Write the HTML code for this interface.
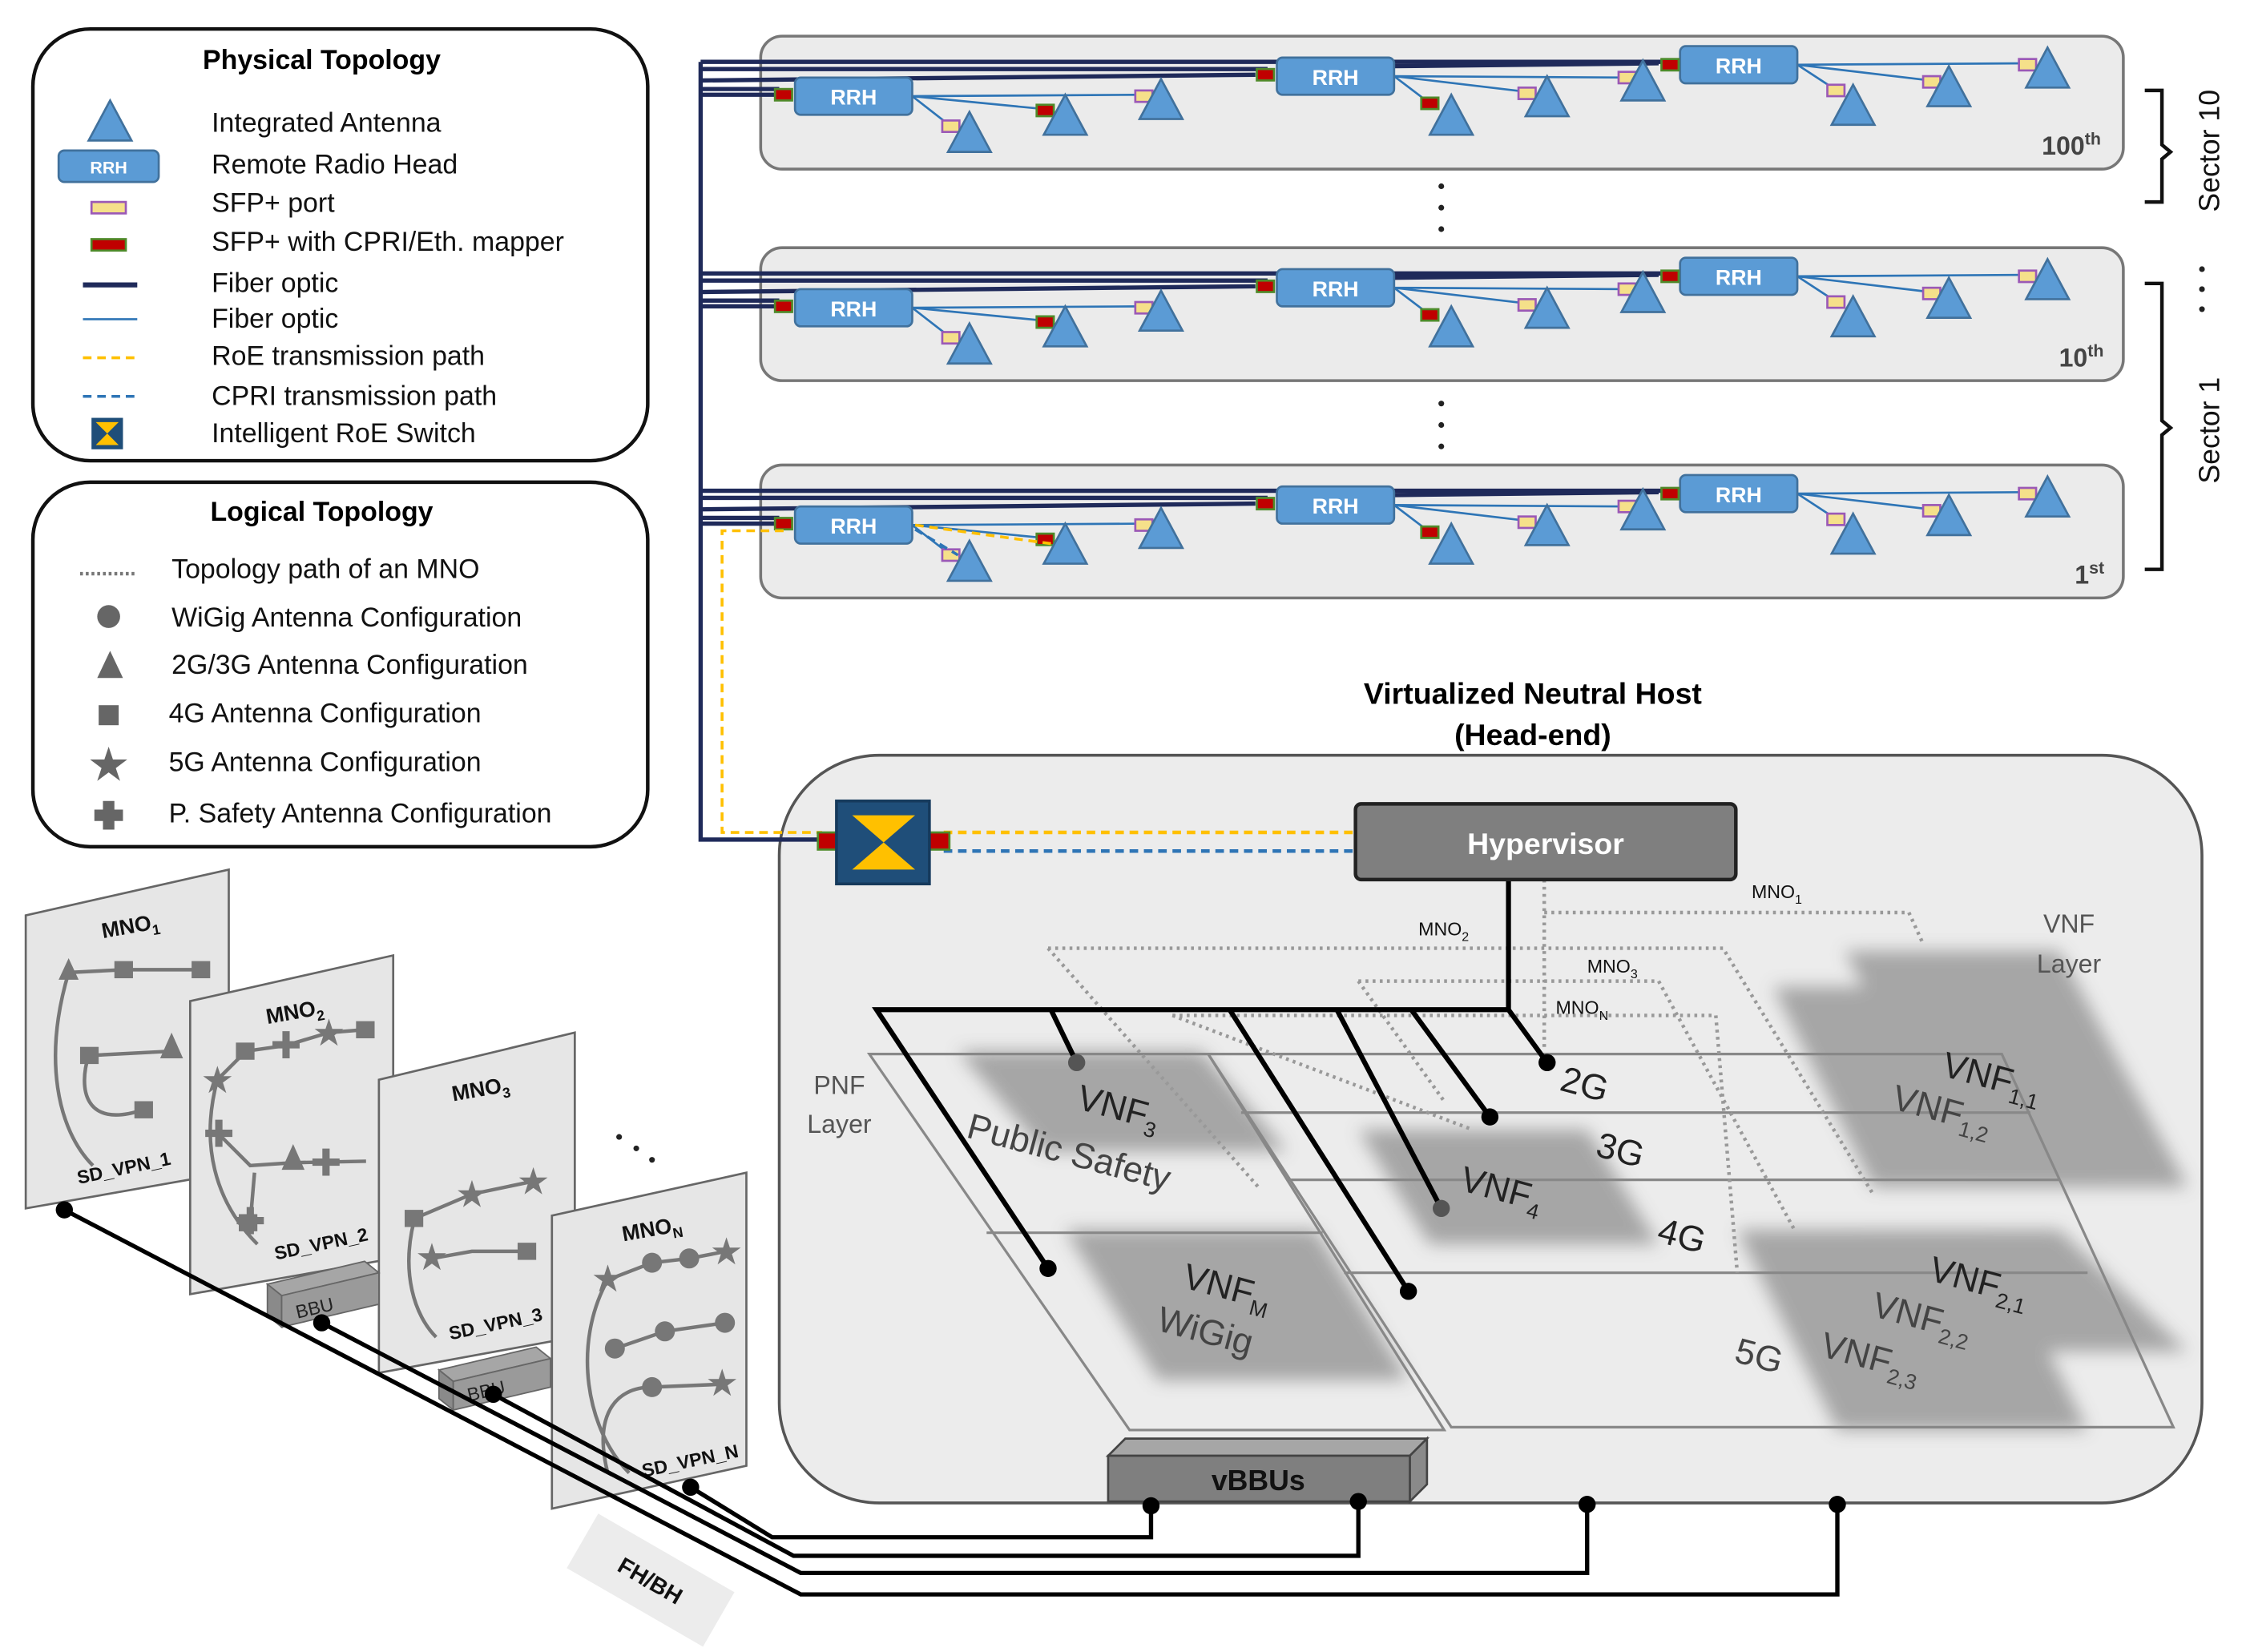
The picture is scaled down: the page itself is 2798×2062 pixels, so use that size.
<!DOCTYPE html>
<html><head><meta charset="utf-8"><style>
html,body{margin:0;padding:0;background:#fff;}
svg{display:block;}
text{font-family:"Liberation Sans",sans-serif;}
</style></head><body>
<svg width="2798" height="2062" viewBox="0 0 1568 1155" xmlns="http://www.w3.org/2000/svg">
<defs>
<filter id="bl" x="-20%" y="-20%" width="140%" height="140%"><feGaussianBlur stdDeviation="6"/></filter>
<g id="tri"><polygon points="0,-14 15,14 -15,14" fill="#5b9bd5" stroke="#41719c" stroke-width="1.5"/></g>
<g id="sfp"><rect x="-6" y="-4" width="12" height="8" fill="#f5e08a" stroke="#9b59b6" stroke-width="1.5"/></g>
<g id="map"><rect x="-6" y="-4" width="12" height="8" fill="#c00000" stroke="#4f8a2a" stroke-width="1.5"/></g>
<g id="rrh"><rect x="0" y="0" width="82" height="26" rx="4" fill="#5b9bd5" stroke="#41719c" stroke-width="1.5"/><text x="41" y="19" font-size="15" fill="#fff" text-anchor="middle" font-weight="bold">RRH</text></g>
<g id="row">
<rect x="532" y="25" width="953" height="93" rx="15" fill="#ebebeb" stroke="#777" stroke-width="2"/>
<g stroke="#1f2a5a" stroke-width="3" fill="none">
<polyline points="490,43 1170,43 1170,45"/>
<polyline points="490,48 885,48 885,52"/>
<polyline points="490,56 878,52"/>
<polyline points="490,62 545,62"/>
<polyline points="490,66 545,66"/>
<line x1="975" y1="46" x2="1160" y2="44"/>
</g>
<g stroke="#2e75b6" stroke-width="1.5" fill="none">
<line x1="638" y1="67" x2="665" y2="88"/><line x1="638" y1="67" x2="730" y2="76"/><line x1="638" y1="67" x2="800" y2="66"/>
<line x1="975" y1="53" x2="1000" y2="72"/><line x1="975" y1="53" x2="1068" y2="64"/><line x1="975" y1="53" x2="1138" y2="54"/>
<line x1="1257" y1="45" x2="1283" y2="62"/><line x1="1257" y1="45" x2="1350" y2="56"/><line x1="1257" y1="45" x2="1418" y2="44"/>
</g>
<use href="#map" x="548" y="66"/>
<use href="#rrh" x="556" y="54"/><use href="#rrh" x="893" y="40"/><use href="#rrh" x="1175" y="32"/>
<use href="#map" x="885" y="52"/><use href="#map" x="1168" y="45"/>
<use href="#sfp" x="665" y="88"/><use href="#map" x="731" y="77"/><use href="#sfp" x="800" y="67"/>
<use href="#map" x="1000" y="72"/><use href="#sfp" x="1068" y="65"/><use href="#sfp" x="1138" y="54"/>
<use href="#sfp" x="1284" y="63"/><use href="#sfp" x="1351" y="57"/><use href="#sfp" x="1418" y="45"/>
<use href="#tri" x="678" y="92"/><use href="#tri" x="745" y="80"/><use href="#tri" x="812" y="69"/>
<use href="#tri" x="1015" y="80"/><use href="#tri" x="1082" y="67"/><use href="#tri" x="1149" y="56"/>
<use href="#tri" x="1296" y="73"/><use href="#tri" x="1363" y="60"/><use href="#tri" x="1432" y="47"/>
</g>
</defs>

<!-- Physical legend -->
<rect x="23" y="20" width="430" height="302" rx="40" fill="#fff" stroke="#111" stroke-width="2.5"/>
<text x="225" y="48" font-size="19" font-weight="bold" text-anchor="middle">Physical Topology</text>
<g font-size="19" fill="#111">
<text x="148" y="92">Integrated Antenna</text>
<text x="148" y="121">Remote Radio Head</text>
<text x="148" y="148">SFP+ port</text>
<text x="148" y="175">SFP+ with CPRI/Eth. mapper</text>
<text x="148" y="204">Fiber optic</text>
<text x="148" y="229">Fiber optic</text>
<text x="148" y="255">RoE transmission path</text>
<text x="148" y="283">CPRI transmission path</text>
<text x="148" y="309">Intelligent RoE Switch</text>
</g>
<use href="#tri" x="77" y="84"/>
<rect x="41" y="105" width="70" height="22" rx="4" fill="#5b9bd5" stroke="#41719c" stroke-width="1.5"/><text x="76" y="121" font-size="12" fill="#fff" text-anchor="middle" font-weight="bold">RRH</text>
<rect x="64" y="141" width="24" height="8" fill="#f5e08a" stroke="#9b59b6" stroke-width="1.5"/>
<rect x="64" y="167" width="24" height="8" fill="#c00000" stroke="#4f8a2a" stroke-width="1.5"/>
<line x1="58" y1="199" x2="96" y2="199" stroke="#1f2a5a" stroke-width="3.5"/>
<line x1="58" y1="223" x2="96" y2="223" stroke="#2e75b6" stroke-width="1.5"/>
<line x1="58" y1="250" x2="96" y2="250" stroke="#ffc000" stroke-width="2" stroke-dasharray="6,4"/>
<line x1="58" y1="277" x2="96" y2="277" stroke="#2e75b6" stroke-width="2" stroke-dasharray="6,4"/>
<rect x="64" y="292" width="22" height="22" fill="#1f4e79"/><polygon points="67,295 83,295 75,303" fill="#ffc000"/><polygon points="67,311 83,311 75,303" fill="#ffc000"/>

<!-- Logical legend -->
<rect x="23" y="337" width="430" height="255" rx="40" fill="#fff" stroke="#111" stroke-width="2.5"/>
<text x="225" y="364" font-size="19" font-weight="bold" text-anchor="middle">Logical Topology</text>
<g font-size="19" fill="#111">
<text x="120" y="404">Topology path of an MNO</text>
<text x="120" y="438">WiGig Antenna Configuration</text>
<text x="120" y="471">2G/3G Antenna Configuration</text>
<text x="118" y="505">4G Antenna Configuration</text>
<text x="118" y="539">5G Antenna Configuration</text>
<text x="118" y="575">P. Safety Antenna Configuration</text>
</g>
<line x1="56" y1="401" x2="96" y2="401" stroke="#777" stroke-width="2.5" stroke-dasharray="2,2"/>
<circle cx="76" cy="431" r="8" fill="#666"/>
<polygon points="77,455 86,474 68,474" fill="#666"/>
<rect x="69" y="493" width="14" height="14" fill="#666"/>
<polygon points="76,522 79,531 89,531 81,537 84,546 76,540 68,546 71,537 63,531 73,531" fill="#666"/>
<path d="M72,560h8v6h6v8h-6v6h-8v-6h-6v-8h6z" fill="#666"/>

<!-- Sector rows -->
<use href="#row"/>
<use href="#row" y="148"/>
<use href="#row" y="300"/>
<text x="1428" y="108" font-size="18" font-weight="bold" fill="#444">100<tspan font-size="12" dy="-7">th</tspan></text>
<text x="1440" y="256" font-size="18" font-weight="bold" fill="#444">10<tspan font-size="12" dy="-7">th</tspan></text>
<text x="1451" y="408" font-size="18" font-weight="bold" fill="#444">1<tspan font-size="12" dy="-7">st</tspan></text>
<g fill="#222"><circle cx="1008" cy="130" r="2"/><circle cx="1008" cy="145" r="2"/><circle cx="1008" cy="160" r="2"/>
<circle cx="1008" cy="282" r="2"/><circle cx="1008" cy="297" r="2"/><circle cx="1008" cy="312" r="2"/>
<circle cx="1540" cy="188" r="2"/><circle cx="1540" cy="202" r="2"/><circle cx="1540" cy="216" r="2"/>
<circle cx="433" cy="795" r="2"/><circle cx="445" cy="803" r="2"/><circle cx="456" cy="811" r="2"/></g>
<g stroke="#111" stroke-width="2.5" fill="none">
<path d="M1500,63 h12 v38 l6,5 l-6,5 v30 h-12"/>
<path d="M1500,198 h12 v96 l6,5 l-6,5 v94 h-12"/>
</g>
<text transform="translate(1552,148) rotate(-90)" font-size="20" fill="#111">Sector 10</text>
<text transform="translate(1552,338) rotate(-90)" font-size="20" fill="#111">Sector 1</text>

<!-- Headend -->
<rect x="545" y="528" width="995" height="523" rx="70" fill="#ececec" stroke="#555" stroke-width="2"/>
<text x="1072" y="492" font-size="21" font-weight="bold" text-anchor="middle">Virtualized Neutral Host</text>
<text x="1072" y="521" font-size="21" font-weight="bold" text-anchor="middle">(Head-end)</text>

<!-- blurred VNF blocks -->
<g fill="#9a9a9a" filter="url(#bl)" opacity="0.85">
<polygon points="670,735 840,735 900,805 730,805"/>
<polygon points="745,860 920,860 985,965 810,965"/>
<polygon points="950,790 1110,790 1160,870 1000,870"/>
<polygon points="1240,690 1400,690 1470,830 1310,830"/>
<polygon points="1290,665 1440,665 1530,830 1380,830"/>
<polygon points="1215,860 1390,860 1460,1000 1285,1000"/>
<polygon points="1300,860 1440,860 1530,945 1390,945"/>
</g>
<!-- layers -->
<g stroke="#888" stroke-width="1.8" fill="none">
<polygon points="608,737 845,737 1010,1000 790,1000"/>
<line x1="690" y1="862" x2="925" y2="862"/>
<polygon points="845,737 1400,737 1520,998 1015,998"/>
<line x1="868" y1="778" x2="1420" y2="778"/>
<line x1="900" y1="825" x2="1440" y2="825"/>
<line x1="940" y1="890" x2="1460" y2="890"/>
</g>
<!-- MNO dotted paths -->
<g stroke="#999" stroke-width="2.5" stroke-dasharray="2,3" fill="none">
<polyline points="733,663 1205,663 1310,835"/>
<polyline points="733,663 880,830"/>
<polyline points="1080,638 1335,638 1345,660"/>
<polyline points="1080,615 1080,735"/>
<polyline points="950,686 1160,686 1255,860"/>
<polyline points="950,686 1010,770"/>
<polyline points="820,710 1200,710 1215,890"/>
<polyline points="820,710 1030,790"/>
</g>
<g font-size="13" fill="#111">
<text x="1225" y="628">MNO<tspan font-size="9" dy="4">1</tspan></text>
<text x="992" y="654">MNO<tspan font-size="9" dy="4">2</tspan></text>
<text x="1110" y="680">MNO<tspan font-size="9" dy="4">3</tspan></text>
<text x="1088" y="709">MNO<tspan font-size="9" dy="4">N</tspan></text>
</g>
<text x="1447" y="652" font-size="18" fill="#555" text-anchor="middle">VNF</text>
<text x="1447" y="680" font-size="18" fill="#555" text-anchor="middle">Layer</text>
<text x="587" y="765" font-size="18" fill="#555" text-anchor="middle">PNF</text>
<text x="587" y="792" font-size="18" fill="#555" text-anchor="middle">Layer</text>
<g font-size="25" fill="#222">
<text transform="translate(752,775) rotate(15)">VNF<tspan font-size="15" dy="6">3</tspan></text>
<text transform="translate(675,795) rotate(15)" fill="#444">Public Safety</text>
<text transform="translate(826,900) rotate(15)">VNF<tspan font-size="15" dy="6">M</tspan></text>
<text transform="translate(808,930) rotate(15)" fill="#444">WiGig</text>
<text transform="translate(1020,832) rotate(15)">VNF<tspan font-size="15" dy="6">4</tspan></text>
<text transform="translate(1090,762) rotate(15)">2G</text>
<text transform="translate(1115,808) rotate(15)">3G</text>
<text transform="translate(1158,868) rotate(15)">4G</text>
<text transform="translate(1212,952) rotate(15)" fill="#444">5G</text>
<text transform="translate(1357,752) rotate(15)">VNF<tspan font-size="15" dy="6">1,1</tspan></text>
<text transform="translate(1322,775) rotate(15)" fill="#444">VNF<tspan font-size="15" dy="6">1,2</tspan></text>
<text transform="translate(1348,895) rotate(15)">VNF<tspan font-size="15" dy="6">2,1</tspan></text>
<text transform="translate(1308,920) rotate(15)" fill="#444">VNF<tspan font-size="15" dy="6">2,2</tspan></text>
<text transform="translate(1272,948) rotate(15)" fill="#444">VNF<tspan font-size="15" dy="6">2,3</tspan></text>
</g>
<!-- black connectors in head-end -->
<g stroke="#000" stroke-width="3.5" fill="none">
<polyline points="1055,615 1055,706 613,706 733,887"/>
<line x1="735" y1="706" x2="753" y2="743"/>
<line x1="860" y1="706" x2="985" y2="903"/>
<line x1="935" y1="706" x2="1008" y2="845"/>
<line x1="987" y1="706" x2="1042" y2="781"/>
<line x1="1055" y1="706" x2="1082" y2="743"/>
</g>
<g fill="#000"><circle cx="733" cy="887" r="6"/><circle cx="753" cy="743" r="6" fill="#555"/><circle cx="985" cy="903" r="6"/><circle cx="1008" cy="845" r="6" fill="#555"/><circle cx="1042" cy="781" r="6"/><circle cx="1082" cy="743" r="6"/></g>

<!-- fiber from left to switch -->
<g fill="none">
<polyline points="490,43 490,587 575,587" stroke="#1f2a5a" stroke-width="3"/>
<polyline points="548,371 505,371 505,582 575,582" stroke="#ffc000" stroke-width="2" stroke-dasharray="6,4"/>
<polyline points="640,367 735,380" stroke="#ffc000" stroke-width="2" stroke-dasharray="6,4"/>
<polyline points="640,370 670,388" stroke="#2e75b6" stroke-width="2" stroke-dasharray="6,4"/>
<line x1="660" y1="582" x2="948" y2="582" stroke="#ffc000" stroke-width="2.5" stroke-dasharray="6,4"/>
<line x1="660" y1="595" x2="948" y2="595" stroke="#2e75b6" stroke-width="2.5" stroke-dasharray="6,4"/>
</g>
<!-- switch -->
<rect x="572" y="582" width="14" height="12" fill="#c00000" stroke="#4f8a2a" stroke-width="1.5"/>
<rect x="650" y="582" width="14" height="12" fill="#c00000" stroke="#4f8a2a" stroke-width="1.5"/>
<rect x="585" y="560" width="65" height="58" fill="#1f4e79" stroke="#163a5c" stroke-width="2"/>
<polygon points="596,570 640,570 618,589" fill="#ffc000"/>
<polygon points="596,608 640,608 618,589" fill="#ffc000"/>
<!-- hypervisor -->
<rect x="948" y="562" width="266" height="53" rx="4" fill="#7f7f7f" stroke="#222" stroke-width="2.5"/>
<text x="1081" y="597" font-size="21" font-weight="bold" fill="#fff" text-anchor="middle">Hypervisor</text>

<!-- MNO cards -->
<g stroke="#666" stroke-width="1.5" fill="#e6e6e6">
<polygon points="18,640 160,608 160,820 18,845"/>
<polygon points="133,700 275,668 275,880 133,905"/>
<polygon points="265,755 402,722 402,935 265,960"/>
<polygon points="386,850 522,820 522,1025 386,1055"/>
</g>
<g font-size="15" font-weight="bold" fill="#111">
<text transform="translate(72,656) rotate(-10)">MNO<tspan font-size="10" dy="4">1</tspan></text>
<text transform="translate(187,716) rotate(-10)">MNO<tspan font-size="10" dy="4">2</tspan></text>
<text transform="translate(317,770) rotate(-10)">MNO<tspan font-size="10" dy="4">3</tspan></text>
<text transform="translate(436,868) rotate(-10)">MNO<tspan font-size="10" dy="4">N</tspan></text>
<text transform="translate(55,828) rotate(-12)" font-size="13">SD_VPN_1</text>
<text transform="translate(193,881) rotate(-12)" font-size="13">SD_VPN_2</text>
<text transform="translate(315,937) rotate(-12)" font-size="13">SD_VPN_3</text>
<text transform="translate(450,1033) rotate(-12)" font-size="13">SD_VPN_N</text>
</g>
<g stroke="#777" stroke-width="2.5" fill="none">
<path d="M48,680 C30,740 40,790 65,815"/><path d="M48,680 L87,678 L141,678"/><path d="M63,738 L120,735"/><path d="M62,738 C55,760 58,790 100,776"/>
<path d="M152,755 C140,800 150,840 180,870"/><path d="M152,755 L172,735 L200,731 L230,722 L255,720"/><path d="M153,793 L175,815 L205,813 L256,812"/><path d="M175,855 L178,820"/>
<path d="M290,852 C280,890 290,920 305,935"/><path d="M290,852 L330,835 L373,826"/><path d="M302,880 L330,875 L368,875"/>
<path d="M425,895 C400,940 410,1000 440,1030"/><path d="M425,895 L456,883 L482,880 L508,875"/><path d="M430,943 L465,931 L507,925"/><path d="M425,1030 C415,990 430,970 456,970 L505,968"/>
</g>
<g fill="#777">
<polygon points="48,670 55,685 41,685"/><rect x="80" y="672" width="13" height="12"/><rect x="134" y="672" width="13" height="12"/><rect x="56" y="732" width="13" height="12"/><polygon points="120,722 128,740 112,740"/><rect x="94" y="770" width="13" height="12"/>
<rect x="165" y="729" width="13" height="12"/><rect x="249" y="714" width="13" height="12"/><rect x="167" y="849" width="13" height="12"/><rect x="283" y="846" width="13" height="12"/><rect x="362" y="869" width="13" height="12"/>
<polygon points="205,800 213,818 197,818"/>
<circle cx="456" cy="883" r="7"/><circle cx="482" cy="880" r="7"/><circle cx="430" cy="943" r="7"/><circle cx="465" cy="931" r="7"/><circle cx="507" cy="925" r="7"/><circle cx="456" cy="970" r="7"/>
</g>
<g fill="#777" font-size="26" text-anchor="middle">
<text x="152" y="764">★</text><text x="230" y="731">★</text><text x="330" y="844">★</text><text x="373" y="835">★</text><text x="302" y="888">★</text><text x="425" y="903">★</text><text x="508" y="884">★</text><text x="505" y="976">★</text>
<text x="200" y="740">✚</text><text x="153" y="802">✚</text><text x="228" y="822">✚</text><text x="175" y="863">✚</text>
</g>
<!-- BBU boxes -->
<g>
<polygon points="187,898 255,882 265,890 197,906" fill="#a6a6a6" stroke="#666"/>
<polygon points="187,898 197,906 197,928 187,920" fill="#8a8a8a" stroke="#666"/>
<polygon points="197,906 265,890 265,912 197,928" fill="#9a9a9a" stroke="#666"/>
<text transform="translate(208,922) rotate(-13)" font-size="13" fill="#222">BBU</text>
<polygon points="307,958 375,942 385,950 317,966" fill="#a6a6a6" stroke="#666"/>
<polygon points="307,958 317,966 317,986 307,978" fill="#8a8a8a" stroke="#666"/>
<polygon points="317,966 385,950 385,970 317,986" fill="#9a9a9a" stroke="#666"/>
<text transform="translate(328,980) rotate(-13)" font-size="13" fill="#222">BBU</text>
</g>
<!-- vBBUs -->
<polygon points="775,1018 787,1006 998,1006 986,1018" fill="#a6a6a6" stroke="#444" stroke-width="1.5"/>
<polygon points="986,1018 998,1006 998,1038 986,1050" fill="#8a8a8a" stroke="#444" stroke-width="1.5"/>
<rect x="775" y="1018" width="211" height="32" fill="#7f7f7f" stroke="#444" stroke-width="1.5"/>
<text x="880" y="1042" font-size="20" font-weight="bold" fill="#111" text-anchor="middle">vBBUs</text>
<!-- bottom connectors -->
<g stroke="#000" stroke-width="3" fill="none">
<polyline points="45,846 560,1115 1285,1115 1285,1052"/>
<polyline points="225,925 560,1100 1110,1100 1110,1052"/>
<polyline points="345,975 555,1088 950,1088 950,1050"/>
<polyline points="483,1040 540,1075 805,1075 805,1053"/>
</g>
<g fill="#000"><circle cx="45" cy="846" r="6"/><circle cx="225" cy="925" r="6"/><circle cx="345" cy="975" r="6"/><circle cx="483" cy="1040" r="6"/>
<circle cx="805" cy="1053" r="6"/><circle cx="950" cy="1050" r="6"/><circle cx="1110" cy="1052" r="6"/><circle cx="1285" cy="1052" r="6"/></g>
<g transform="translate(455,1105) rotate(30)">
<rect x="-55" y="-22" width="110" height="44" fill="#ececec"/>
<text x="0" y="6" font-size="16" font-weight="bold" text-anchor="middle" fill="#111">FH/BH</text>
</g>
</svg>
</body></html>
